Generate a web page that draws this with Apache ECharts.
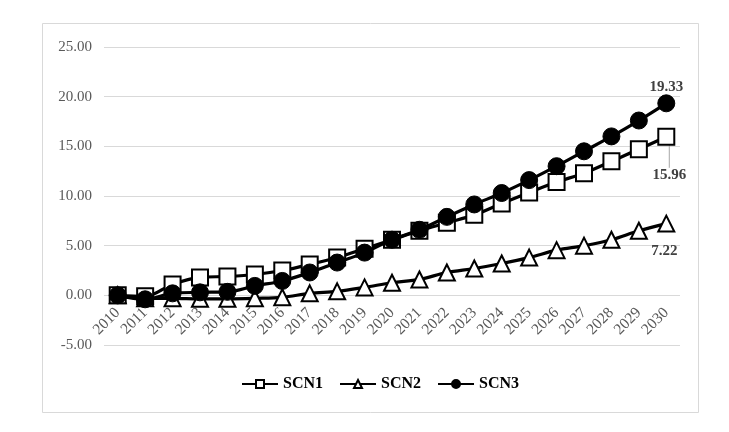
<!DOCTYPE html>
<html>
<head>
<meta charset="utf-8">
<script src="https://cdn.jsdelivr.net/npm/echarts@6/dist/echarts.min.js"></script>
<style>
html,body{margin:0;padding:0;background:#fff;}
#c{width:729px;height:432px;}
</style>
</head>
<body>
<div id="c"></div>
<script>
const years = ['2010','2011','2012','2013','2014','2015','2016','2017','2018','2019','2020','2021','2022','2023','2024','2025','2026','2027','2028','2029','2030'];
const scn1 = [0, -0.1, 1.1, 1.8, 1.9, 2.1, 2.5, 3.1, 3.8, 4.7, 5.6, 6.5, 7.3, 8.1, 9.25, 10.35, 11.4, 12.3, 13.5, 14.7, 15.96];
const scn2 = [0, -0.3, -0.3, -0.35, -0.35, -0.3, -0.2, 0.2, 0.4, 0.8, 1.27, 1.6, 2.3, 2.7, 3.2, 3.8, 4.55, 5.0, 5.6, 6.5, 7.22];
const scn3 = [0, -0.4, 0.2, 0.3, 0.35, 0.95, 1.45, 2.3, 3.3, 4.3, 5.6, 6.6, 7.9, 9.15, 10.3, 11.6, 13.0, 14.5, 16.0, 17.6, 19.33];
const yTicks = [-5, 0, 5, 10, 15, 20, 25];

const FONT = 'Liberation Serif';
const labelStyle = {fontFamily: FONT, fontWeight: 'bold', fontSize: 15, color: '#404040'};

const GRID_TOP = 47, GRID_BOTTOM = 87, H = 432;
const plotH = H - GRID_TOP - GRID_BOTTOM;
// shift x-axis labels up to the zero line (Excel style: axis crosses at 0)
const zeroOffset = -plotH * (0 - yTicks[0]) / (yTicks[yTicks.length - 1] - yTicks[0]);

function withEndLabel(arr, labelCfg) {
  return arr.map((v, i) => i === arr.length - 1
    ? {value: v, label: Object.assign({show: true, formatter: (p) => p.value.toFixed(2)}, labelStyle, labelCfg)}
    : v);
}

const chart = echarts.init(document.getElementById('c'));
chart.setOption({
  animation: false,
  backgroundColor: '#fff',
  graphic: [{
    type: 'rect',
    shape: {x: 42.5, y: 23.5, width: 656, height: 389},
    style: {fill: 'none', stroke: '#d9d9d9', lineWidth: 1},
    silent: true, z: -10
  }],
  grid: {left: 104, right: 49, top: GRID_TOP, bottom: GRID_BOTTOM},
  legend: {
    bottom: 35,
    left: 236,
    itemWidth: 36,
    itemHeight: 10,
    itemGap: 16,
    textStyle: {fontFamily: FONT, fontWeight: 'bold', fontSize: 16, color: '#000'},
    data: ['SCN1', 'SCN2', 'SCN3']
  },
  xAxis: {
    type: 'category',
    data: years,
    boundaryGap: true,
    offset: zeroOffset,
    axisLine: {show: false, onZero: false},
    axisTick: {show: false},
    axisLabel: {rotate: 45, fontFamily: FONT, fontSize: 15.5, color: '#595959', margin: 15, interval: 0}
  },
  yAxis: {
    type: 'value',
    min: yTicks[0],
    max: yTicks[yTicks.length - 1],
    interval: 5,
    axisLine: {show: false},
    axisTick: {show: false},
    splitLine: {lineStyle: {color: '#d9d9d9', width: 1}},
    axisLabel: {fontFamily: FONT, fontSize: 15, color: '#595959', margin: 12, formatter: (v) => v.toFixed(2)}
  },
  series: [
    {
      name: 'SCN1', type: 'line', data: withEndLabel(scn1, {position: 'bottom', distance: 6}),
      smooth: 0.35, symbol: 'rect', symbolSize: 16,
      lineStyle: {color: '#000', width: 3.2},
      itemStyle: {color: '#fff', borderColor: '#000', borderWidth: 2},
      labelLine: {show: true, lineStyle: {color: '#a6a6a6', width: 1}},
      labelLayout: (p) => p.dataIndex === scn1.length - 1 ? {dx: 3, dy: 16} : {},
      z: 3
    },
    {
      name: 'SCN2', type: 'line', data: withEndLabel(scn2, {position: 'bottom', distance: 11, offset: [-2, 0]}),
      smooth: 0.35, symbol: 'triangle', symbolSize: 16,
      lineStyle: {color: '#000', width: 3.2},
      itemStyle: {color: '#fff', borderColor: '#000', borderWidth: 2},
      z: 2
    },
    {
      name: 'SCN3', type: 'line', data: withEndLabel(scn3, {position: 'top', distance: 0}),
      smooth: 0.35, symbol: 'circle', symbolSize: 17,
      lineStyle: {color: '#000', width: 3.2},
      itemStyle: {color: '#000', borderColor: '#000', borderWidth: 1},
      z: 4
    }
  ]
});
</script>
</body>
</html>
